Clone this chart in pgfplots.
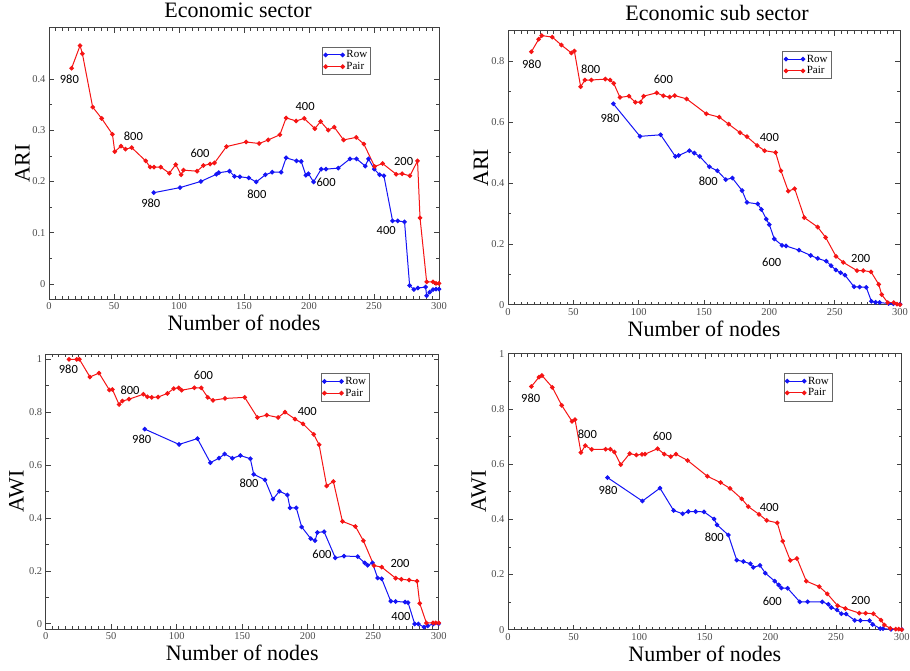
\documentclass[border=0pt]{standalone}
\usepackage{pgfplots}
\pgfplotsset{compat=1.18}
\usepackage{fontspec}
\setmainfont{Liberation Serif}
\newfontfamily\annfont{Carlito}

\definecolor{rowblue}{RGB}{20,20,245}
\definecolor{pairred}{RGB}{245,20,20}

\tikzset{ann/.style={font=\annfont\fontsize{12.5}{12.5}\selectfont, text=black}}

\pgfplotsset{
  panel/.style={
    scale only axis,
    anchor=south west,
    xmin=0, xmax=300,
    xtick={0,50,...,300},
    minor x tick num=9,
    minor y tick num=1,
    tick align=inside,
    major tick length=5pt,
    minor tick length=3pt,
    axis line style={black!75, line width=0.8pt},
    every tick/.style={black!75, line width=0.6pt},
    tick label style={font=\fontsize{10.5}{10.5}\selectfont, text=black!70},
    /pgf/number format/assume math mode=true,
    yticklabel style={/pgf/number format/.cd, fixed, precision=1},
    title style={font=\fontsize{22}{22}\selectfont},
    label style={font=\fontsize{22}{22}\selectfont},
    legend cell align=left,
    legend style={font=\fontsize{11}{11}\selectfont, draw=black!60, line width=0.7pt,
      inner sep=1.5pt, row sep=-1pt, anchor=north west},
    legend image code/.code={
      \draw[mark repeat=2, mark phase=1, #1] plot coordinates {(0pt,0pt) (8.5pt,0pt) (17pt,0pt)};},
  },
  rowline/.style={rowblue, line width=1pt, mark=*, mark size=1.8pt, mark options={fill=rowblue}},
  pairline/.style={pairred, line width=1pt, mark=*, mark size=1.8pt, mark options={fill=pairred}},
}

\begin{document}
\begin{tikzpicture}
\useasboundingbox (0pt,0pt) rectangle (910pt,670pt);

% ---------------- top left: ARI, economic sector
\begin{axis}[panel, at={(49pt,370.7pt)}, width=390pt, height=271.6pt,
  ymin=-0.03, ymax=0.5, ytick={0,0.1,0.2,0.3,0.4},
  title={Economic sector}, ylabel={ARI}, xlabel={Number of nodes},
  title style={xshift=-6pt},
  xlabel style={at={(axis description cs:0.5,-0.088)}, anchor=center},
  ylabel style={at={(axis description cs:-0.068,0.5)}, anchor=center},
  legend style={at={(0.70,0.93)}}]
\addplot[rowline] coordinates {
(80.6,0.178) (100.8,0.188) (116.8,0.200) (128.8,0.214) (130.6,0.217) (138.8,0.220)
(142.7,0.210) (146.8,0.209) (153.7,0.207) (159.4,0.199) (166.5,0.213) (171.7,0.218)
(178.6,0.218) (182.4,0.246) (190.4,0.240) (194.0,0.239) (197.6,0.212) (199.6,0.215)
(203.5,0.199) (209.4,0.224) (213.0,0.224) (222.5,0.226) (231.5,0.244) (236.6,0.244)
(243.3,0.230) (245.8,0.244) (250.2,0.224) (254.3,0.213) (257.6,0.211) (264.3,0.123)
(268.2,0.123) (273.5,0.121) (277.4,-0.003) (280.7,-0.011) (283.8,-0.008) (289.7,-0.006)
(290.5,-0.023) (292.8,-0.016) (295.4,-0.011) (297.7,-0.010) (300,-0.010)};
\addplot[pairline] coordinates {
(17.4,0.421) (23.9,0.465) (25.7,0.449) (33.6,0.345) (40.5,0.323) (48.8,0.292)
(50.6,0.258) (55.4,0.269) (58.8,0.263) (63.6,0.266) (74.4,0.240) (77.8,0.228)
(80.8,0.228) (86.0,0.228) (92.6,0.216) (97.5,0.233) (101.6,0.213) (103.4,0.222)
(113.9,0.220) (118.8,0.231) (123.9,0.234) (127.3,0.236) (136.5,0.268) (151.6,0.277)
(161.7,0.274) (168.6,0.281) (177.6,0.291) (182.4,0.324) (190.1,0.318) (196.3,0.323)
(204.5,0.303) (208.9,0.317) (214.8,0.300) (219.4,0.306) (226.6,0.281) (236.3,0.286)
(242.2,0.273) (250.5,0.229) (256.6,0.235) (267.1,0.214) (271.7,0.215) (277.6,0.211)
(283.5,0.240) (285.4,0.129) (290.5,0.004) (295.4,0.004) (297.7,0.001) (300,0.001)};
\legend{Row,Pair}
\node[ann] at (axis cs:15.7,0.399) {980};
\node[ann] at (axis cs:64.9,0.288) {800};
\node[ann] at (axis cs:116.2,0.254) {600};
\node[ann] at (axis cs:197,0.347) {400};
\node[ann] at (axis cs:272.8,0.239) {200};
\node[ann] at (axis cs:78.3,0.158) {980};
\node[ann] at (axis cs:159.9,0.175) {800};
\node[ann] at (axis cs:213.2,0.199) {600};
\node[ann] at (axis cs:259.4,0.104) {400};
\end{axis}

% ---------------- top right: ARI, economic sub sector
\begin{axis}[panel, at={(508pt,365.3pt)}, width=392pt, height=274pt,
  ymin=0, ymax=0.9, ytick={0,0.2,0.4,0.6,0.8},
  title={Economic sub sector}, ylabel={ARI}, xlabel={Number of nodes},
  title style={xshift=13pt},
  xlabel style={at={(axis description cs:0.5,-0.088)}, anchor=center},
  ylabel style={at={(axis description cs:-0.069,0.5)}, anchor=center},
  legend style={at={(0.70,0.926)}}]
\addplot[rowline] coordinates {
(80.6,0.660) (101.0,0.553) (116.8,0.558) (128.1,0.487) (130.6,0.490) (138.8,0.506)
(142.6,0.498) (146.7,0.487) (154.1,0.453) (160.2,0.440) (166.6,0.411) (171.7,0.416)
(179.1,0.375) (182.9,0.336) (191.1,0.331) (193.9,0.313) (197.7,0.281) (200.0,0.263)
(203.8,0.216) (209.7,0.195) (212.8,0.193) (222.7,0.179) (231.6,0.162) (237.0,0.152)
(243.6,0.143) (247.2,0.128) (251.0,0.114) (254.6,0.105) (257.9,0.097) (264.8,0.059)
(269.1,0.058) (274.2,0.057) (278.1,0.011) (281.4,0.008) (284.4,0.007) (291.3,0.004)
(294.9,0.003) (300,0.002)};
\addplot[pairline] coordinates {
(17.9,0.831) (23.5,0.872) (25.8,0.884) (33.9,0.879) (40.8,0.853) (48.5,0.827)
(50.8,0.833) (55.6,0.716) (58.9,0.738) (63.8,0.738) (74.5,0.741) (78.1,0.738)
(80.9,0.727) (85.7,0.681) (92.6,0.685) (97.4,0.665) (101.5,0.665) (103.8,0.685)
(113.8,0.696) (118.9,0.686) (123.7,0.682) (127.6,0.687) (136.7,0.676) (151.8,0.627)
(161.7,0.616) (168.9,0.593) (177.6,0.565) (182.9,0.552) (190.6,0.523) (196.4,0.506)
(204.8,0.500) (208.9,0.440) (214.5,0.373) (219.4,0.381) (226.8,0.286) (237.0,0.255)
(243.1,0.221) (251.0,0.159) (256.6,0.139) (267.1,0.112) (271.9,0.112) (277.8,0.108)
(283.7,0.067) (286.0,0.033) (290.6,0.007) (295.2,0.007) (297.7,0.002) (300,0.000)};
\legend{Row,Pair}
\node[ann] at (axis cs:18.1,0.789) {980};
\node[ann] at (axis cs:63.3,0.773) {800};
\node[ann] at (axis cs:118.9,0.741) {600};
\node[ann] at (axis cs:200,0.550) {400};
\node[ann] at (axis cs:269.9,0.151) {200};
\node[ann] at (axis cs:78.1,0.611) {980};
\node[ann] at (axis cs:153.3,0.406) {800};
\node[ann] at (axis cs:201.8,0.138) {600};
\end{axis}

% ---------------- bottom left: AWI, economic sector
\begin{axis}[panel, at={(45.7pt,41pt)}, width=393pt, height=275pt,
  ymin=-0.02, ymax=1.02, ytick={0,0.2,0.4,0.6,0.8,1},
  ylabel={AWI}, xlabel={Number of nodes},
  xlabel style={at={(axis description cs:0.5,-0.087)}, anchor=center},
  ylabel style={at={(axis description cs:-0.074,0.5)}, anchor=center},
  legend style={at={(0.70,0.93)}}]
\addplot[rowline] coordinates {
(75.6,0.736) (101.8,0.678) (115.8,0.700) (125.7,0.609) (132.3,0.626) (136.6,0.642)
(142.5,0.626) (148.6,0.636) (156.2,0.624) (158.8,0.565) (167.4,0.544) (173.5,0.471)
(178.4,0.501) (184.5,0.487) (186.5,0.438) (191.3,0.438) (195.4,0.366) (202.3,0.322)
(205.6,0.314) (207.4,0.345) (212.5,0.348) (221.1,0.249) (227.7,0.256) (238.2,0.254)
(243.5,0.230) (245.8,0.221) (249.4,0.230) (253.4,0.173) (256.5,0.170) (263.4,0.085)
(267.2,0.084) (274.3,0.082) (276.6,0.080) (281.7,-0.001) (284.5,-0.001) (288.8,-0.013)
(291.6,-0.008) (295.9,-0.001) (300,0.000)};
\addplot[pairline] coordinates {
(17.8,1.000) (23.7,1.000) (25.7,1.000) (33.8,0.933) (40.7,0.948) (48.6,0.884)
(50.9,0.886) (56.0,0.829) (58.5,0.842) (63.6,0.849) (74.6,0.868) (77.6,0.858)
(80.9,0.856) (85.8,0.857) (92.9,0.871) (97.7,0.889) (101.5,0.892) (103.8,0.883)
(113.5,0.892) (118.8,0.892) (123.7,0.856) (127.7,0.845) (136.9,0.852) (151.9,0.856)
(161.6,0.780) (168.7,0.789) (177.4,0.780) (182.7,0.800) (190.3,0.774) (196.4,0.756)
(204.6,0.716) (208.7,0.677) (214.5,0.521) (219.6,0.538) (226.5,0.387) (236.4,0.368)
(242.5,0.314) (250.6,0.220) (256.5,0.214) (267.2,0.172) (271.5,0.168) (277.4,0.165)
(283.5,0.161) (285.5,0.077) (290.6,0.003) (295.7,0.003) (297.7,0.003) (300,0.003)};
\legend{Row,Pair}
\node[ann] at (axis cs:17.3,0.961) {980};
\node[ann] at (axis cs:64.4,0.883) {800};
\node[ann] at (axis cs:120.4,0.940) {600};
\node[ann] at (axis cs:199.7,0.802) {400};
\node[ann] at (axis cs:270.5,0.227) {200};
\node[ann] at (axis cs:73.3,0.697) {980};
\node[ann] at (axis cs:155.2,0.531) {800};
\node[ann] at (axis cs:210.9,0.261) {600};
\node[ann] at (axis cs:271.2,0.029) {400};
\end{axis}

% ---------------- bottom right: AWI, economic sub sector
\begin{axis}[panel, at={(508pt,40.3pt)}, width=393.7pt, height=276pt,
  ymin=0, ymax=1, ytick={0,0.2,0.4,0.6,0.8,1},
  ylabel={AWI}, xlabel={Number of nodes},
  xlabel style={at={(axis description cs:0.5,-0.087)}, anchor=center},
  ylabel style={at={(axis description cs:-0.074,0.5)}, anchor=center},
  legend style={at={(0.70,0.93)}}]
\addplot[rowline] coordinates {
(75.9,0.551) (102.4,0.466) (115.8,0.513) (126.2,0.432) (133.1,0.420) (137.4,0.428)
(143.0,0.428) (149.4,0.427) (157.0,0.401) (159.3,0.380) (167.9,0.343) (174.3,0.252)
(179.3,0.247) (184.7,0.239) (186.9,0.226) (192.0,0.233) (196.1,0.205) (203.2,0.176)
(206.3,0.162) (208.3,0.151) (213.1,0.150) (222.3,0.101) (228.3,0.101) (239.5,0.101)
(244.1,0.092) (246.4,0.080) (250.7,0.072) (254.0,0.058) (257.6,0.057) (264.2,0.034)
(268.5,0.033) (275.4,0.033) (277.9,0.019) (283.7,0.004) (285.7,0.004) (291.8,0.001)
(300,0.001)};
\addplot[pairline] coordinates {
(17.8,0.881) (23.6,0.915) (25.9,0.921) (33.8,0.878) (40.9,0.813) (48.8,0.755)
(51.1,0.761) (55.6,0.642) (58.9,0.667) (63.8,0.653) (74.4,0.654) (78.0,0.654)
(81.0,0.644) (85.9,0.598) (92.7,0.638) (97.8,0.633) (102.1,0.635) (104.4,0.636)
(114.0,0.656) (119.1,0.636) (124.0,0.627) (128.0,0.636) (136.9,0.613) (151.9,0.556)
(162.0,0.533) (169.2,0.512) (178.1,0.474) (183.1,0.446) (191.3,0.418) (197.1,0.396)
(205.2,0.387) (209.3,0.321) (215.1,0.251) (220.2,0.258) (227.3,0.176) (237.2,0.156)
(243.3,0.130) (251.2,0.087) (257.1,0.077) (267.7,0.060) (272.5,0.060) (278.4,0.058)
(284.2,0.035) (286.8,0.017) (291.3,0.005) (295.4,0.002) (297.7,0.002) (300,0.000)};
\legend{Row,Pair}
\node[ann] at (axis cs:17.3,0.839) {980};
\node[ann] at (axis cs:60.5,0.708) {800};
\node[ann] at (axis cs:117.6,0.701) {600};
\node[ann] at (axis cs:199.1,0.444) {400};
\node[ann] at (axis cs:268.7,0.106) {200};
\node[ann] at (axis cs:76.2,0.506) {980};
\node[ann] at (axis cs:157.2,0.335) {800};
\node[ann] at (axis cs:201.4,0.103) {600};
\end{axis}
\end{tikzpicture}
\end{document}
